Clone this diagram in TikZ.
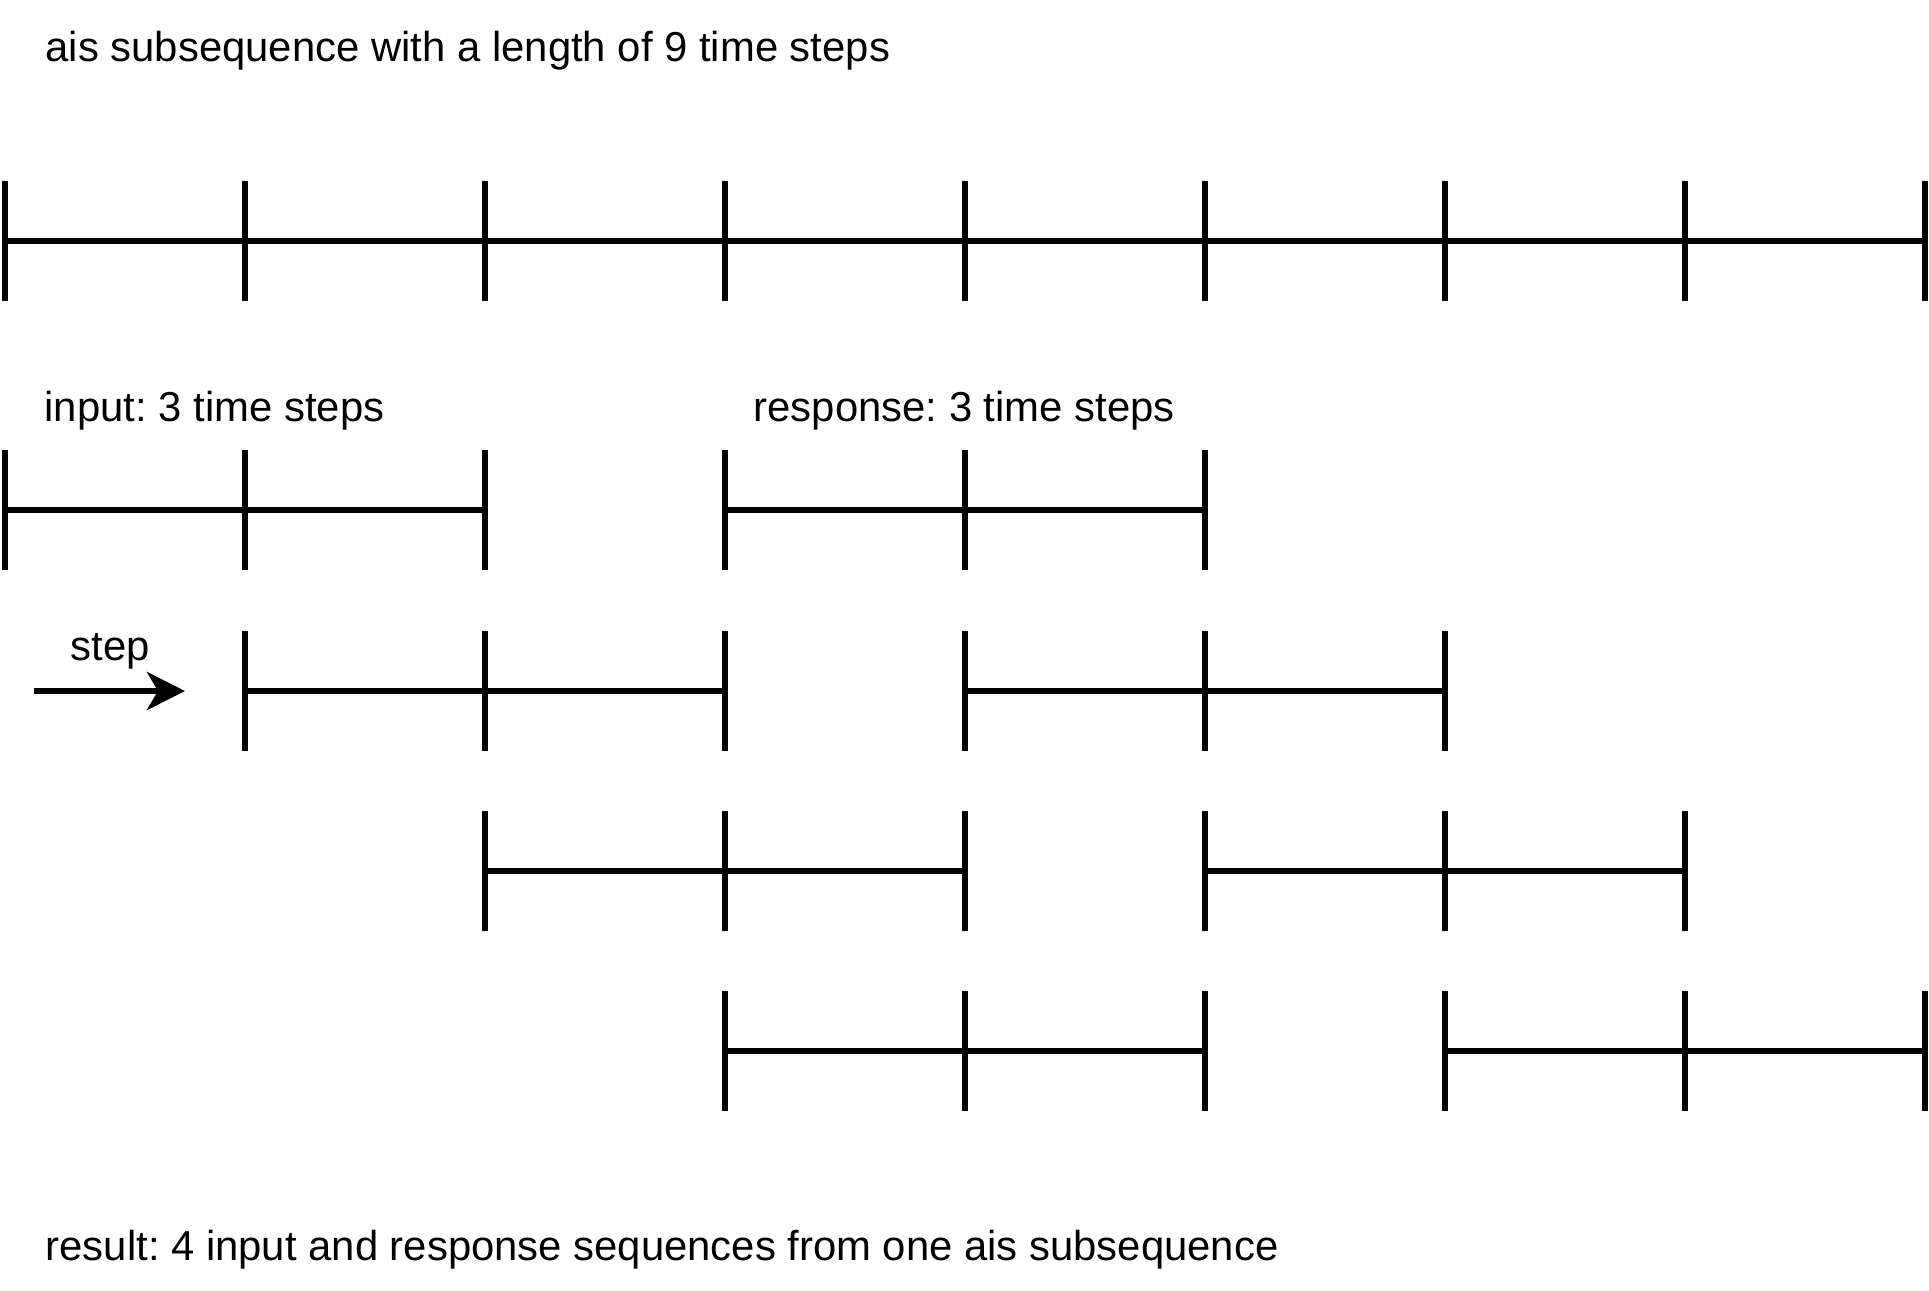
\documentclass[tikz,border=0pt]{standalone}
\usepackage{fontspec}
\setmainfont{Liberation Sans}
\usetikzlibrary{arrows.meta}

\tikzset{
	bar/.style={line width=1.7pt},
	tick/.style={inner sep=0pt, minimum width=0pt, minimum height=1.18cm},
	lbl/.style={anchor=base west, inner sep=0pt, font=\fontsize{11.9}{14}\selectfont},
}

\begin{document}
\frenchspacing
\begin{tikzpicture}[x=0.01cm, y=-0.01cm]
		\useasboundingbox (0,0) rectangle (1929,1290);

		\node[lbl] (title) at (45,61) {ais subsequence with a length of 9 time steps};

		% the whole ais subsequence
		\foreach \k in {0,...,8} {
			\node[tick] (full\k) at ({5+240*\k}, 241) {};
			\draw[bar] (full\k.north) -- (full\k.south);
		}
		\draw[bar] (full0) -- (full8);

		\node[lbl] (inlbl) at (44,421) {input: 3 time steps};
		\node[lbl] (reslbl) at (753,421) {response: 3 time steps};

		% input and response windows, one row per step
		\foreach \r/\y in {1/510, 2/691, 3/871, 4/1051} {
			\foreach \k in {0,1,2} {
				\node[tick] (in\r-\k) at ({5+240*(\r-1+\k)}, \y) {};
				\node[tick] (res\r-\k) at ({5+240*(\r+2+\k)}, \y) {};
				\draw[bar] (in\r-\k.north) -- (in\r-\k.south);
				\draw[bar] (res\r-\k.north) -- (res\r-\k.south);
			}
			\draw[bar] (in\r-0) -- (in\r-2);
			\draw[bar] (res\r-0) -- (res\r-2);
		}

		\node[lbl] (steplbl) at (70,660) {step};
		\coordinate (stepfrom) at (34,691);
		\coordinate (stepto) at (185,691);
		\draw[bar, -{Stealth[length=0.38cm, width=0.38cm, inset=0.11cm]}] (stepfrom) -- (stepto);

		\node[lbl] (result) at (45,1260) {result: 4 input and response sequences from one ais subsequence};
	\end{tikzpicture}
\end{document}
